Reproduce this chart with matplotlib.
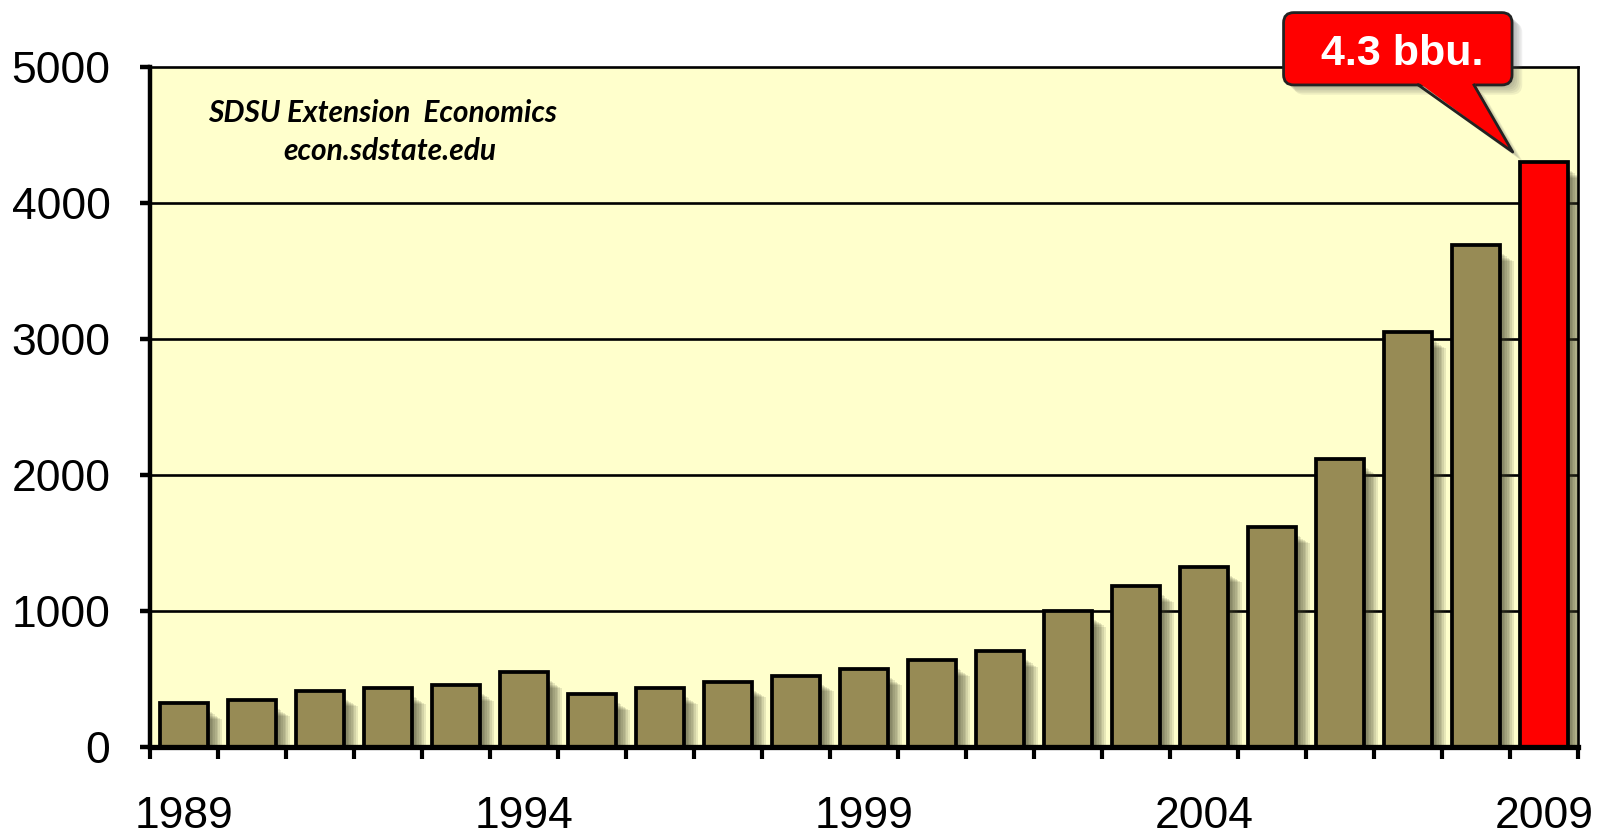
import matplotlib
matplotlib.use("Agg")
import matplotlib.pyplot as plt
from matplotlib.patches import FancyBboxPatch, Polygon, Rectangle

# ethanol corn use, million bushels
years = [1989, 1990, 1991, 1992, 1993, 1994, 1995, 1996, 1997, 1998, 1999,
         2000, 2001, 2002, 2003, 2004, 2005, 2006, 2007, 2008, 2009]
values = [321, 343, 412, 431, 454, 549, 387, 431, 478, 524, 571,
          637, 704, 1000, 1181, 1324, 1615, 2115, 3049, 3689, 4299]
labeled_years = [1989, 1994, 1999, 2004, 2009]
y_ticks = [0, 1000, 2000, 3000, 4000, 5000]
callout_text = "4.3 bbu."
credit_lines = ["SDSU Extension  Economics", "econ.sdstate.edu"]

bar_color = "#978B55"
hi_color = "#FF0000"
bg_color = "#FFFFCC"

plt.rcParams['font.family'] = ['Liberation Sans', 'DejaVu Sans']

fig = plt.figure(figsize=(15.99, 8.36), dpi=100)
ax = fig.add_axes([150 / 1599, 89 / 836, 1428 / 1599, 680 / 836])
ax.set_facecolor(bg_color)

n = len(values)
xs = list(range(n))
width = 0.72

ax.set_xlim(-0.5, n - 0.5)
ax.set_ylim(0, 5000)

# grid
for t in y_ticks[1:-1]:
    ax.axhline(t, color="black", lw=1.9, zorder=1)

# soft drop shadow to the right of each bar
for x, v in zip(xs, values):
    for k in range(1, 9):
        dx = 0.024 * k
        ax.add_patch(Rectangle((x, 0), width / 2 + dx, max(v - 50 - 8 * k, 0),
                               facecolor="#3c3c28", edgecolor="none",
                               alpha=0.12, zorder=2))

colors = [bar_color] * (n - 1) + [hi_color]
ax.bar(xs, values, width=width, color=colors, edgecolor="black",
       linewidth=2.7, zorder=3)

# spines
for s in ["top", "right"]:
    ax.spines[s].set_linewidth(1.9)
ax.spines["left"].set_linewidth(3.2)
ax.spines["bottom"].set_linewidth(3.8)
for s in ax.spines.values():
    s.set_zorder(5)

ax.set_yticks(y_ticks)
ax.set_yticklabels([str(t) for t in y_ticks])
ax.tick_params(axis="y", direction="out", length=7.5, width=3.2, pad=21,
               labelsize=32)

ax.set_xticks([i - 0.5 for i in range(n + 1)])
ax.set_xticklabels([])
ax.tick_params(axis="x", which="major", direction="out", length=8.5, width=3)
ax.set_xticks([years.index(y) for y in labeled_years], minor=True)
ax.set_xticklabels([str(y) for y in labeled_years], minor=True)
ax.tick_params(axis="x", which="minor", length=0, pad=35, labelsize=32)

# credit text
ax.text(0.163, 0.932, credit_lines[0], transform=ax.transAxes, ha="center",
        va="center", fontsize=21.5, family=["Lato", "DejaVu Sans"],
        weight="bold", style="italic")
ax.text(0.168, 0.876, credit_lines[1], transform=ax.transAxes, ha="center",
        va="center", fontsize=21.5, family=["Lato", "DejaVu Sans"],
        weight="bold", style="italic")

# callout over the last bar
tip_x, tip_y = n - 1 - 0.46, values[-1] + 76
bx0, bx1 = n - 1 - 3.83, n - 1 - 0.47
by0, by1 = 4868, 5400
asp = (1428 / n) / (680 / 5000)
for k in range(1, 7):
    ax.add_patch(FancyBboxPatch((bx0 + 0.025 * k, by0 - 12 * k), bx1 - bx0, by1 - by0,
                                boxstyle="round,pad=0,rounding_size=0.15",
                                mutation_aspect=asp, facecolor="#555555",
                                edgecolor="none", alpha=0.09, clip_on=False,
                                zorder=6))
    ax.add_patch(Polygon([(bx0 + 2.0 + 0.025 * k, by0 - 12 * k),
                          (bx0 + 2.8 + 0.025 * k, by0 - 12 * k),
                          (tip_x + 0.025 * k, tip_y - 12 * k)],
                         closed=True, facecolor="#555555", edgecolor="none",
                         alpha=0.09, clip_on=False, zorder=6))
ax.add_patch(FancyBboxPatch((bx0, by0), bx1 - bx0, by1 - by0,
                            boxstyle="round,pad=0,rounding_size=0.15",
                            mutation_aspect=asp, facecolor=hi_color,
                            edgecolor="#222222", linewidth=2.0, clip_on=False,
                            zorder=7))
px0, px1 = bx0 + 1.98, bx0 + 2.80
ax.add_patch(Polygon([(px0, by0 + 20), (px1, by0 + 20), (tip_x, tip_y)],
                     closed=True, facecolor=hi_color, edgecolor="none",
                     clip_on=False, zorder=8))
ax.plot([px0, tip_x, px1], [by0, tip_y, by0], color="#222222", lw=2.0,
        clip_on=False, zorder=8)
ax.text((bx0 + bx1) / 2 + 0.07, 5015, callout_text, ha="center", va="baseline",
        color="white", fontsize=31, weight="bold", zorder=9)

fig.savefig("out.png", dpi=100, facecolor="white")
